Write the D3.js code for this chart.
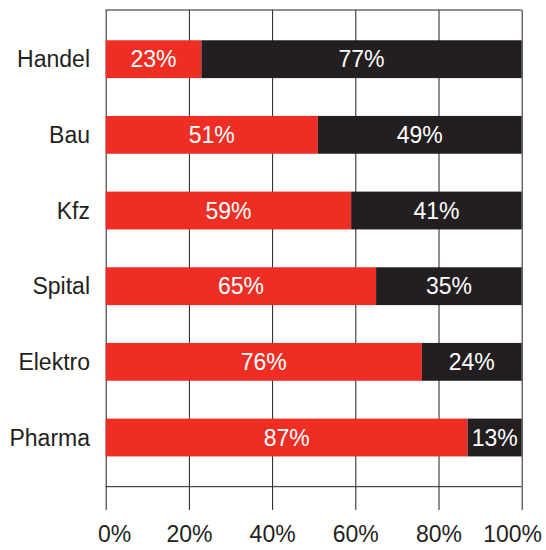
<!DOCTYPE html>
<html>
<head>
<meta charset="utf-8">
<script src="https://cdn.jsdelivr.net/npm/d3@7"></script>
<style>
  body { margin: 0; background: #fff; }
  text { font-family: "Liberation Sans", Arial, Helvetica, sans-serif; }
</style>
</head>
<body>
<div class="chart"></div>
<script>
var categories = ["Handel", "Bau", "Kfz", "Spital", "Elektro", "Pharma"]
var redValues = [23, 51, 59, 65, 76, 87]
var darkValues = [77, 49, 41, 35, 24, 13]
var tickValues = [0, 20, 40, 60, 80, 100]

var width = 546,
    height = 550,
    plotLeft = 105.7,
    plotRight = 521.7,
    plotTop = 10,
    axisY = 486.7,
    gridBottom = 510

var red = "#ee2e24",
    dark = "#231f20"

var svg = d3.select(".chart")
  .append("svg")
  .attr("width", width)
  .attr("height", height)

var x = d3.scaleLinear()
  .domain([0, 100])
  .range([plotLeft, plotRight])

var y = d3.scaleBand()
  .domain(categories)
  .range([plotTop, axisY])
  .paddingInner(0.5)
  .paddingOuter(0.4)

var rows = categories.map(function(c, i) {
  return {cat: c, red: redValues[i], dark: darkValues[i]}
})

// grid + tick labels
var xAxis = svg.append("g")
  .attr("class", "axis")
  .attr("transform", "translate(0," + gridBottom + ")")
  .call(d3.axisBottom(x)
    .tickValues(tickValues)
    .tickSize(-(gridBottom - plotTop))
    .tickPadding(16)
    .tickFormat(function(d) { return d + "%" }))

xAxis.select(".domain").remove()
xAxis.selectAll("line").attr("stroke", dark).attr("stroke-width", 1)
xAxis.selectAll("text")
  .attr("fill", dark)
  .style("font-size", "23px")
  .each(function() {
    // first and last label are nudged inwards
    var t = d3.select(this)
    var w = this.getComputedTextLength()
    var tx = +d3.select(this.parentNode).attr("transform").match(/translate\(([\d.]+)/)[1]
    if (tx + w / 2 > width - 4) t.attr("x", width - 4 - w / 2 - tx)
    if (tx - w / 2 < 98) t.attr("x", 98 + w / 2 - tx)
  })

svg.append("line")
  .attr("x1", plotLeft).attr("x2", plotRight)
  .attr("y1", plotTop).attr("y2", plotTop)
  .attr("stroke", dark)

svg.append("line")
  .attr("x1", plotLeft).attr("x2", plotRight)
  .attr("y1", axisY).attr("y2", axisY)
  .attr("stroke", dark)

var bar = svg.append("g")
  .selectAll("g")
  .data(rows)
  .enter()
  .append("g")

bar.append("rect")
  .attr("x", x(0))
  .attr("y", function(d) { return y(d.cat) })
  .attr("width", function(d) { return x(d.red) - x(0) })
  .attr("height", y.bandwidth())
  .attr("fill", red)

bar.append("rect")
  .attr("x", function(d) { return x(d.red) })
  .attr("y", function(d) { return y(d.cat) })
  .attr("width", function(d) { return x(d.red + d.dark) - x(d.red) })
  .attr("height", y.bandwidth())
  .attr("fill", dark)

bar.append("text")
  .attr("x", function(d) { return x(d.red / 2) })
  .attr("y", function(d) { return y(d.cat) + y.bandwidth() / 2 })
  .attr("dy", "0.36em")
  .attr("text-anchor", "middle")
  .attr("fill", "#fff")
  .style("font-size", "23px")
  .text(function(d) { return d.red + "%" })

bar.append("text")
  .attr("x", function(d) { return x(d.red + d.dark / 2) })
  .attr("y", function(d) { return y(d.cat) + y.bandwidth() / 2 })
  .attr("dy", "0.36em")
  .attr("text-anchor", "middle")
  .attr("fill", "#fff")
  .style("font-size", "23px")
  .text(function(d) { return d.dark + "%" })

// category labels
svg.append("g")
  .selectAll("text")
  .data(categories)
  .enter()
  .append("text")
  .attr("x", 90)
  .attr("y", function(d) { return y(d) + y.bandwidth() / 2 })
  .attr("dy", "0.36em")
  .attr("text-anchor", "end")
  .attr("fill", dark)
  .style("font-size", "23px")
  .text(function(d) { return d })
</script>
</body>
</html>
